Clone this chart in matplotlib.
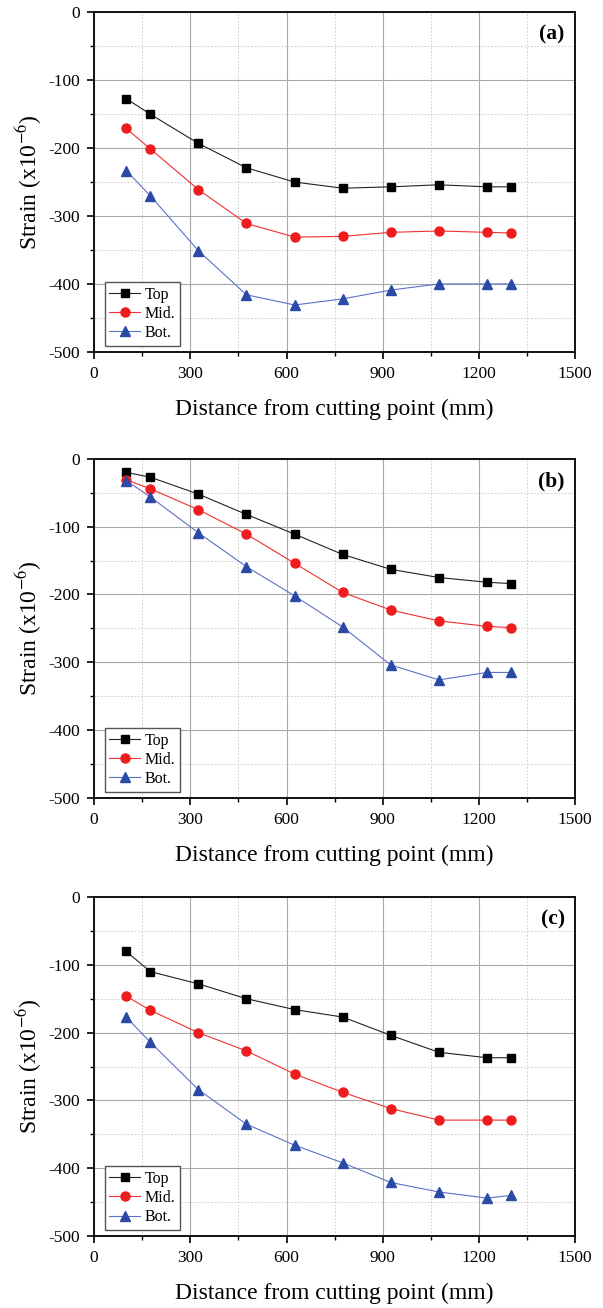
import matplotlib.pyplot as plt
from matplotlib.ticker import MultipleLocator

plt.rcParams['font.family'] = ['Liberation Serif', 'DejaVu Serif']
plt.rcParams['mathtext.fontset'] = 'stix'
plt.rcParams['axes.unicode_minus'] = False

# distance from cutting point (mm)
dist = [100, 175, 325, 475, 625, 775, 925, 1075, 1225, 1300]

# (a)
top_a = [-127, -150, -193, -229, -250, -259, -257, -254, -257, -257]
mid_a = [-171, -201, -261, -311, -331, -330, -324, -322, -324, -325]
bot_a = [-233, -270, -351, -416, -431, -422, -409, -400, -400, -400]

# (b)
top_b = [-20, -27, -52, -82, -111, -141, -163, -175, -182, -184]
mid_b = [-31, -44, -75, -111, -154, -197, -223, -239, -247, -249]
bot_b = [-32, -56, -109, -159, -202, -248, -304, -326, -315, -315]

# (c)
top_c = [-80, -110, -128, -150, -166, -177, -204, -229, -237, -237]
mid_c = [-146, -167, -200, -227, -261, -288, -312, -329, -329, -329]
bot_c = [-177, -214, -284, -335, -366, -392, -421, -435, -444, -440]

panels = [
    ('(a)', top_a, mid_a, bot_a, [0.156, 0.731, 0.798, 0.2596]),
    ('(b)', top_b, mid_b, bot_b, [0.156, 0.390, 0.798, 0.2592]),
    ('(c)', top_c, mid_c, bot_c, [0.156, 0.055, 0.798, 0.2592]),
]

fig = plt.figure(figsize=(6.03, 13.08), dpi=100)

for tag, top, mid, bot, rect in panels:
    ax = fig.add_axes(rect)
    ax.plot(dist, top, color='#222222', lw=0.8, marker='s', ms=5.5,
            mfc='black', mec='black', label='Top')
    ax.plot(dist, mid, color='#f03030', lw=0.8, marker='o', ms=6.5,
            mfc='#ee1c1c', mec='#ee1c1c', label='Mid.')
    ax.plot(dist, bot, color='#5a72c8', lw=0.8, marker='^', ms=6.5,
            mfc='#2a4aa6', mec='#2a4aa6', label='Bot.')

    ax.set_xlim(0, 1500)
    ax.set_ylim(-500, 0)
    ax.xaxis.set_major_locator(MultipleLocator(300))
    ax.xaxis.set_minor_locator(MultipleLocator(150))
    ax.yaxis.set_major_locator(MultipleLocator(100))
    ax.yaxis.set_minor_locator(MultipleLocator(50))
    ax.grid(True, which='major', color='#a8a8a8', lw=0.8)
    ax.grid(True, which='minor', color='#c8c8c8', lw=0.6, ls=(0, (2, 2)))
    ax.set_axisbelow(True)
    ax.tick_params(which='major', direction='out', length=5, width=1.2,
                   labelsize=12.5, pad=5)
    ax.tick_params(which='minor', direction='out', length=3, width=1.0)
    for s in ax.spines.values():
        s.set_linewidth(1.4)
        s.set_color('#111111')

    ax.set_xlabel('Distance from cutting point (mm)', fontsize=17, labelpad=12)
    ax.set_ylabel('Strain (x10$^{-6}$)', fontsize=17, labelpad=3)
    ax.text(0.978, 0.963, tag, transform=ax.transAxes, ha='right', va='top',
            fontsize=15.5, fontweight='bold')

    leg = ax.legend(loc='lower left', bbox_to_anchor=(0.022, 0.018),
                    borderaxespad=0, fontsize=11.5, fancybox=False,
                    framealpha=1, edgecolor='#555555', handlelength=1.9,
                    handletextpad=0.3, borderpad=0.3, labelspacing=0.2)
    leg.get_frame().set_linewidth(1.0)

fig.savefig('out.png', dpi=100)
